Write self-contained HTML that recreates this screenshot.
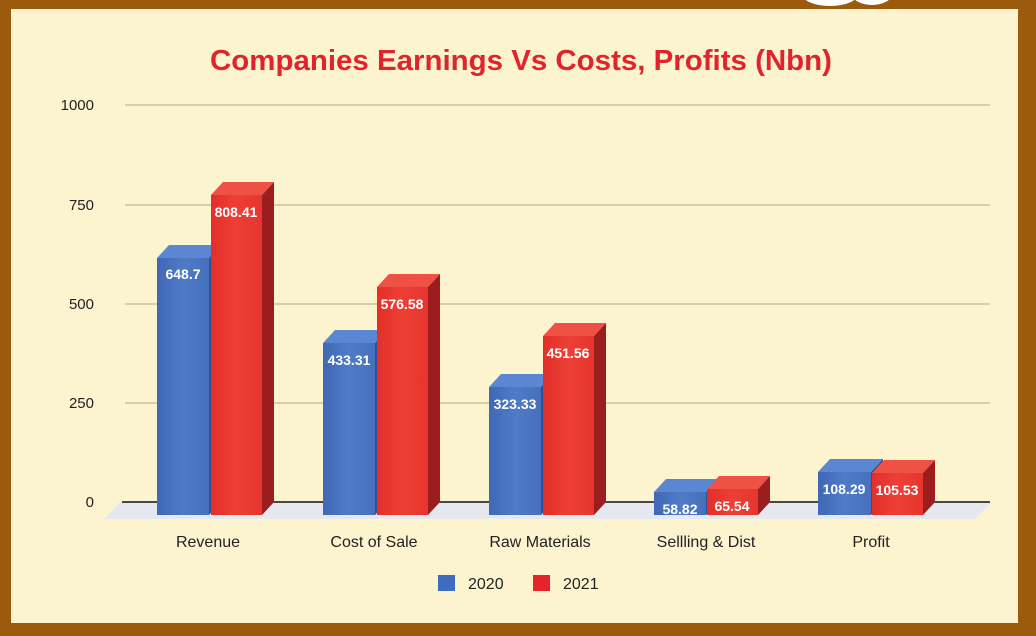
<!DOCTYPE html>
<html><head><meta charset="utf-8"><style>
html,body{margin:0;padding:0;background:#9c5a0c;}
svg{display:block;}
text{font-family:"Liberation Sans",Arial,sans-serif;}
</style></head><body>
<svg width="1036" height="636" viewBox="0 0 1036 636" xmlns="http://www.w3.org/2000/svg">
<defs>
<linearGradient id="bf" x1="0" x2="1"><stop offset="0" stop-color="#3f68b5"/><stop offset="0.5" stop-color="#4f7bc6"/><stop offset="1" stop-color="#4670bd"/></linearGradient>
<linearGradient id="rf" x1="0" x2="1"><stop offset="0" stop-color="#e22f2a"/><stop offset="0.5" stop-color="#ee3f35"/><stop offset="1" stop-color="#e5352e"/></linearGradient>
</defs>
<rect width="1036" height="636" fill="#9c5a0c"/>
<ellipse cx="830" cy="-6" rx="28" ry="12" fill="#fff"/>
<ellipse cx="872" cy="-6" rx="20" ry="11" fill="#fff"/>
<rect x="11" y="9" width="1007" height="614" fill="#fcf3cf"/>
<text x="521" y="70" text-anchor="middle" font-size="29" font-weight="bold" fill="#e3232b" textLength="622" lengthAdjust="spacingAndGlyphs">Companies Earnings Vs Costs, Profits (Nbn)</text>
<g stroke="#c9c2a4" stroke-width="1.5">
<line x1="125" y1="105" x2="990" y2="105"/>
<line x1="125" y1="205" x2="990" y2="205"/>
<line x1="125" y1="304" x2="990" y2="304"/>
<line x1="125" y1="403" x2="990" y2="403"/>
</g>
<g font-size="15" fill="#222" text-anchor="end">
<text x="94" y="110">1000</text>
<text x="94" y="210">750</text>
<text x="94" y="309">500</text>
<text x="94" y="408">250</text>
<text x="94" y="507">0</text>
</g>
<polygon points="120,502 992,502 975,519 104,519" fill="#e6e8ef"/>
<line x1="122" y1="502" x2="990" y2="502" stroke="#111" stroke-width="1.5"/>
<g id="bars">
<polygon points="157,258 169,245 221,245 209,258" fill="#5b87d2"/><polygon points="209,258 221,245 221,502 209,515" fill="#2e4f93"/><rect x="157" y="258" width="52" height="257" fill="url(#bf)"/>
<polygon points="211,195 223,182 274,182 262,195" fill="#ef5245"/><polygon points="262,195 274,182 274,502 262,515" fill="#9c1d1d"/><rect x="211" y="195" width="51" height="320" fill="url(#rf)"/>
<polygon points="323,343 335,330 387,330 375,343" fill="#5b87d2"/><polygon points="375,343 387,330 387,502 375,515" fill="#2e4f93"/><rect x="323" y="343" width="52" height="172" fill="url(#bf)"/>
<polygon points="377,287 389,274 440,274 428,287" fill="#ef5245"/><polygon points="428,287 440,274 440,502 428,515" fill="#9c1d1d"/><rect x="377" y="287" width="51" height="228" fill="url(#rf)"/>
<polygon points="489,387 501,374 553,374 541,387" fill="#5b87d2"/><polygon points="541,387 553,374 553,502 541,515" fill="#2e4f93"/><rect x="489" y="387" width="52" height="128" fill="url(#bf)"/>
<polygon points="543,336 555,323 606,323 594,336" fill="#ef5245"/><polygon points="594,336 606,323 606,502 594,515" fill="#9c1d1d"/><rect x="543" y="336" width="51" height="179" fill="url(#rf)"/>
<polygon points="654,492 666,479 718,479 706,492" fill="#5b87d2"/><polygon points="706,492 718,479 718,502 706,515" fill="#2e4f93"/><rect x="654" y="492" width="52" height="23" fill="url(#bf)"/>
<polygon points="707,489 719,476 770,476 758,489" fill="#ef5245"/><polygon points="758,489 770,476 770,502 758,515" fill="#9c1d1d"/><rect x="707" y="489" width="51" height="26" fill="url(#rf)"/>
<polygon points="818,472 830,459 883,459 871,472" fill="#5b87d2"/><polygon points="871,472 883,459 883,502 871,515" fill="#2e4f93"/><rect x="818" y="472" width="53" height="43" fill="url(#bf)"/>
<polygon points="872,473 884,460 935,460 923,473" fill="#ef5245"/><polygon points="923,473 935,460 935,502 923,515" fill="#9c1d1d"/><rect x="872" y="473" width="51" height="42" fill="url(#rf)"/>
</g>
<g font-size="14" font-weight="bold" fill="#fff" text-anchor="middle">
<text x="183" y="279">648.7</text>
<text x="236" y="217">808.41</text>
<text x="349" y="365">433.31</text>
<text x="402" y="309">576.58</text>
<text x="515" y="409">323.33</text>
<text x="568" y="358">451.56</text>
<text x="680" y="514">58.82</text>
<text x="732" y="511">65.54</text>
<text x="844" y="494">108.29</text>
<text x="897" y="495">105.53</text>
</g>
<g font-size="16" fill="#222" text-anchor="middle">
<text x="208" y="547">Revenue</text>
<text x="374" y="547">Cost of Sale</text>
<text x="540" y="547">Raw Materials</text>
<text x="706" y="547">Sellling &amp; Dist</text>
<text x="871" y="547">Profit</text>
</g>
<rect x="438" y="575" width="17" height="16" fill="#3f6cbf"/>
<text x="468" y="589" font-size="16" fill="#222">2020</text>
<rect x="533" y="575" width="17" height="16" fill="#e5232b"/>
<text x="563" y="589" font-size="16" fill="#222">2021</text>
</svg>
</body></html>
